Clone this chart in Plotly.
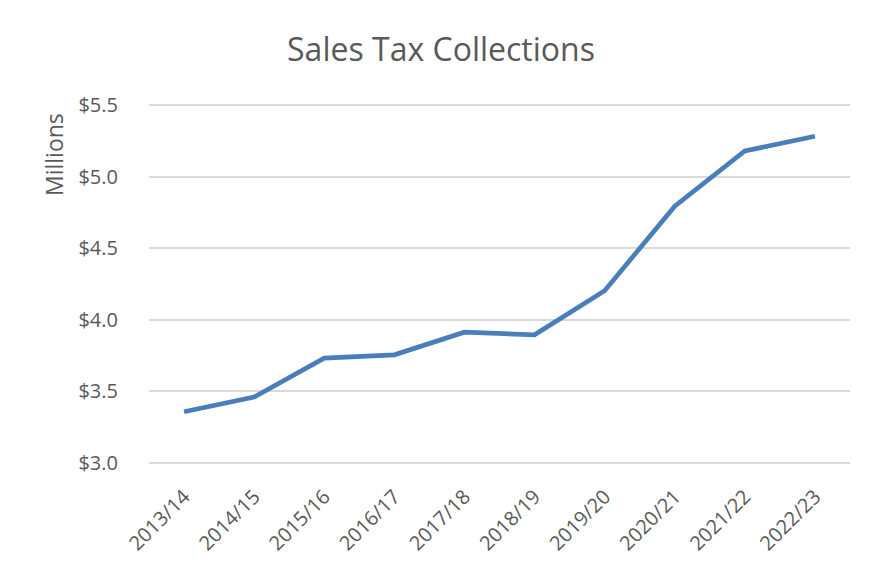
import plotly.graph_objects as go

years = ["2013/14", "2014/15", "2015/16", "2016/17", "2017/18",
         "2018/19", "2019/20", "2020/21", "2021/22", "2022/23"]
collections_millions = [3.356, 3.459, 3.731, 3.754, 3.913,
                        3.894, 4.203, 4.795, 5.181, 5.284]
y_ticks = [3.0, 3.5, 4.0, 4.5, 5.0, 5.5]
y_tick_labels = ["$3.0", "$3.5", "$4.0", "$4.5", "$5.0", "$5.5"]

# page has an 8px body margin; figure sized to fit inside the viewport
OFF = 8
W, H = 874 - 2 * OFF, 568 - 2 * OFF
L, T = 149 - OFF, 96
R = W - (850 - OFF)
B = H - 456
pw, ph = W - L - R, H - T - B

FONT = "Open Sans"
GREY = "#595959"

fig = go.Figure()
fig.add_trace(go.Scatter(
    x=years, y=collections_millions, mode="lines",
    line=dict(color="#4a7ebb", width=4.7),
    hoverinfo="skip", showlegend=False,
))

fig.update_layout(
    width=W, height=H,
    margin=dict(l=L, r=R, t=T, b=B, pad=0, autoexpand=False),
    paper_bgcolor="white", plot_bgcolor="white",
    font=dict(family=FONT, color=GREY, size=20),
    title=dict(text="Sales Tax Collections", x=(441 - OFF) / W, xref="container",
               xanchor="center", y=1 - (50 - OFF) / H, yref="container", yanchor="middle",
               automargin=False,
               font=dict(family=FONT, size=32, color=GREY)),
    xaxis=dict(type="category", showgrid=False, zeroline=False, showline=False,
               automargin=False,
               tickangle=-45, tickfont=dict(size=20, color=GREY),
               ticks="outside", ticklen=12, tickcolor="rgba(0,0,0,0)",
               range=[-0.5, len(years) - 0.5]),
    yaxis=dict(range=[2.99, 5.51], tickvals=y_ticks, ticktext=y_tick_labels,
               automargin=False,
               showgrid=True, gridcolor="#d9d9d9", gridwidth=1.5,
               zeroline=False, showline=False,
               tickfont=dict(size=20, color=GREY),
               ticks="outside", ticklen=26, tickcolor="rgba(0,0,0,0)"),
    annotations=[dict(text="Millions", textangle=-90, xref="paper", yref="paper",
                      x=((54 - OFF) - L) / pw, y=(456 - (155 - OFF)) / ph,
                      xanchor="center", yanchor="middle", showarrow=False,
                      font=dict(family=FONT, size=23, color=GREY))],
)

fig.write_html("out.html")
